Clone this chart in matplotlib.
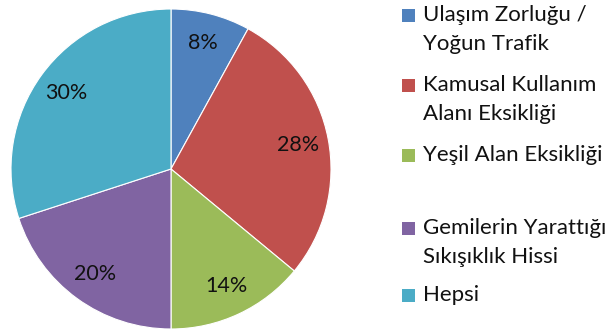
import matplotlib
matplotlib.use("Agg")
import matplotlib.pyplot as plt
from matplotlib.patches import Rectangle

categories = [
    "Ulaşım Zorluğu /\nYoğun Trafik",
    "Kamusal Kullanım\nAlanı Eksikliği",
    "Yeşil Alan Eksikliği",
    "Gemilerin Yarattığı\nSıkışıklık Hissi",
    "Hepsi",
]
values = [8, 28, 14, 20, 30]
colors = ["#4F81BD", "#C0504D", "#9BBB59", "#8064A2", "#4BACC6"]

plt.rcParams["font.family"] = ["Lato", "DejaVu Sans"]

W, H = 612, 329
fig = plt.figure(figsize=(W / 100, H / 100), dpi=100)
fig.patch.set_facecolor("white")

# pie area: centre ~ (171, 169) px, radius ~ 160 px
ax = fig.add_axes([11 / W, 0 / H, 320 / W, 320 / H])
ax.pie(
    values,
    colors=colors,
    startangle=90,
    counterclock=False,
    radius=1.0,
    labels=[f"{v}%" for v in values],
    labeldistance=0.81,
    textprops=dict(fontsize=15.5, color="#111111", ha="center", va="center"),
    wedgeprops=dict(edgecolor="white", linewidth=0.8),
)
for t in ax.texts:
    t.set_horizontalalignment("center")
    t.set_verticalalignment("center")
ax.set_xlim(-1.0, 1.0)
ax.set_ylim(-1.0, 1.0)
ax.set_aspect("equal")
ax.axis("off")

# legend drawn entry by entry; each entry reserves two text lines
first_line_y = [15, 85, 155, 228, 295]  # px from top
line_gap = 29
sq = 13
for label, col, y in zip(categories, colors, first_line_y):
    fig.patches.append(
        Rectangle(((402) / W, 1 - (y + sq / 2) / H), sq / W, sq / H,
                  transform=fig.transFigure, facecolor=col, edgecolor="none")
    )
    for i, line in enumerate(label.split("\n")):
        fig.text(423 / W, 1 - (y + i * line_gap) / H, line,
                 fontsize=16, color="#111111", ha="left", va="center")

fig.savefig("out.png", dpi=100, facecolor="white")
